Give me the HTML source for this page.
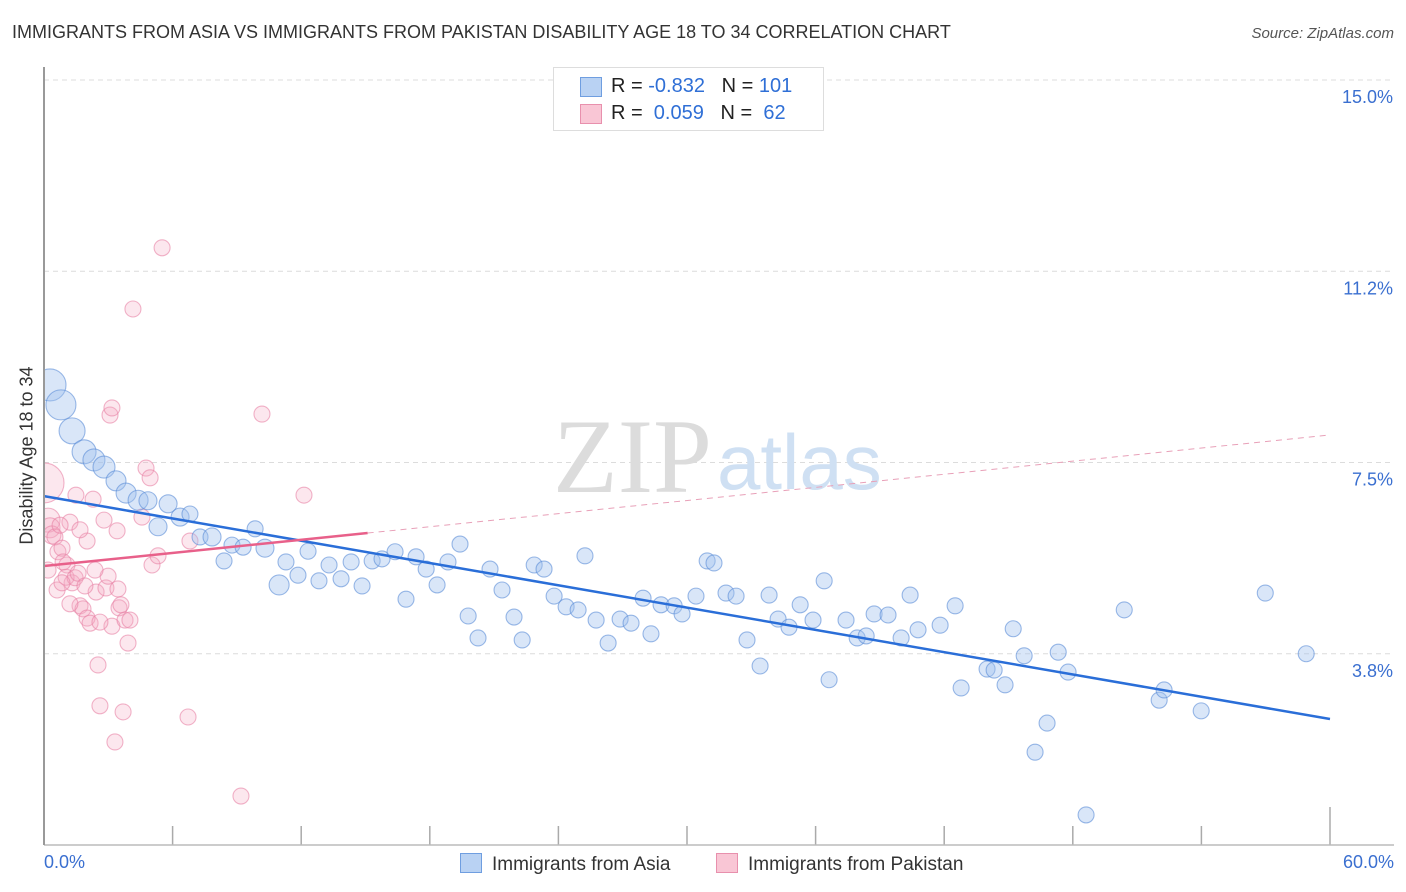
<!DOCTYPE html>
<html><head><meta charset="utf-8">
<style>
body{margin:0;background:#fff;font-family:"Liberation Sans",sans-serif;}
#wrap{position:relative;width:1406px;height:892px;overflow:hidden;}
.t{position:absolute;white-space:nowrap;}
</style></head>
<body>
<div id="wrap">
<div class="t" style="left:12px;top:22px;font-size:18px;color:#333;">IMMIGRANTS FROM ASIA VS IMMIGRANTS FROM PAKISTAN DISABILITY AGE 18 TO 34 CORRELATION CHART</div>
<div class="t" style="right:12px;top:25px;font-size:15px;color:#555;font-style:italic;">Source: ZipAtlas.com</div>
<svg id="svg" width="1406" height="892" style="position:absolute;left:0;top:0"></svg>
<div style="position:absolute;left:0;top:60px;width:43px;height:800px;background:#fff;z-index:2;"></div>
<div style="position:absolute;left:43px;top:67px;width:1.5px;height:778px;background:#999;z-index:3;"></div>
</div>
<script>
const asiaX=[0.28,0.79,1.31,1.87,2.33,2.80,3.36,3.83,4.39,4.85,5.32,5.79,6.35,6.81,7.28,7.84,8.40,8.77,9.29,9.85,10.31,10.97,11.29,11.85,12.32,12.83,13.30,13.86,14.33,14.84,15.31,15.77,16.38,16.89,17.36,17.83,18.34,18.85,19.41,19.79,20.25,20.81,21.37,21.93,22.31,22.87,23.33,23.80,24.36,24.92,25.24,25.76,26.32,26.88,27.39,27.95,28.32,28.79,29.40,29.77,30.42,30.94,31.26,31.82,32.29,32.80,33.41,33.83,34.25,34.76,35.28,35.88,36.40,36.63,37.42,37.94,38.36,38.73,39.38,39.99,40.41,40.78,41.81,42.51,42.79,44.00,44.33,44.84,45.22,45.73,46.24,46.80,47.32,47.78,48.62,50.40,52.03,52.26,53.99,56.98,58.89];
const asiaY=[9.02,8.63,8.12,7.71,7.55,7.41,7.14,6.90,6.76,6.75,6.24,6.69,6.43,6.49,6.04,6.04,5.57,5.88,5.84,6.20,5.82,5.10,5.55,5.29,5.76,5.18,5.49,5.22,5.55,5.08,5.57,5.61,5.75,4.82,5.65,5.41,5.10,5.55,5.90,4.49,4.06,5.41,5.00,4.47,4.02,5.49,5.41,4.88,4.67,4.61,5.67,4.41,3.96,4.43,4.35,4.84,4.14,4.71,4.69,4.53,4.88,5.57,5.53,4.94,4.88,4.02,3.51,4.90,4.43,4.27,4.71,4.41,5.18,3.24,4.41,4.06,4.10,4.53,4.51,4.06,4.90,4.22,4.31,4.69,3.08,3.45,3.43,3.14,4.24,3.71,1.82,2.39,3.78,3.39,0.59,4.61,2.84,3.04,2.63,4.94,3.75];
const asiaW=[16,15,13,12,11,11,10,10,10,9,9,9,9,8,8,9,8,8,8,8,9,10];
const pakX=[0,0.19,0.28,0.37,0.51,0.65,0.84,1.07,1.31,0.89,1.21,1.03,1.45,1.59,1.68,1.82,2.01,2.15,2.29,2.43,2.52,2.61,2.80,2.89,2.99,3.08,3.17,3.17,3.31,3.41,3.50,3.59,3.69,3.78,3.92,4.01,4.15,4.57,4.76,4.95,5.04,5.32,5.51,6.72,6.81,9.19,10.17,12.13,2.01,1.68,0.75,0.19,1.21,1.91,1.49,2.61,3.45,2.38,0.61,0.84];
const pakY=[7.10,6.37,6.22,6.08,6.04,5.75,5.82,5.49,5.14,5.55,6.33,5.25,5.24,5.33,4.69,4.63,4.45,4.35,6.78,4.96,3.53,2.73,6.37,5.04,5.27,8.43,8.57,4.29,2.02,6.16,4.65,4.71,2.61,4.41,3.96,4.41,10.51,6.43,7.39,7.20,5.49,5.67,11.71,2.51,5.96,0.96,8.45,6.86,5.96,6.18,6.27,5.39,4.73,5.08,6.86,4.37,5.02,5.39,5.00,5.14];
const pakW=[20,12,10,9];
const asiaTrend=[6.84,2.47];
const pakTrend=[5.47,8.04];
const pakSolidEnd=15.1;
const xTicks=[0,6,12,18,24,30,36,42,48,54,60];
const yTicks=[3.75,7.5,11.25,15];
const yTickLabels=["3.8%","7.5%","11.2%","15.0%"];

const NS="http://www.w3.org/2000/svg";
const svg=document.getElementById('svg');
const X=v=>44+v*(1286/60);
const Y=v=>845-v*51;
function mk(tag,attrs,parent){const e=document.createElementNS(NS,tag);for(const k in attrs)e.setAttribute(k,attrs[k]);(parent||svg).appendChild(e);return e;}

yTicks.forEach((t,i)=>{
  const g=mk('line',{x1:44,x2:1394,y1:Y(t),y2:Y(t),stroke:'#dcdcdc','stroke-dasharray':'5,4','stroke-width':1});
  
  
  const tx=mk('text',{x:1393,y:Y(t)+23,'text-anchor':'end','font-size':18,fill:'#3a6fd0','font-family':'Liberation Sans, sans-serif'});
  tx.textContent=yTickLabels[i];
  
  
});
xTicks.forEach((t,i)=>{
  if(i===0)return;
  const l=mk('line',{x1:X(t),x2:X(t),y1:(i===xTicks.length-1?807:826),y2:845,stroke:'#aaa','stroke-width':1.5});
  
  
});
const wm=mk('text',{x:553,y:492,'font-size':106,fill:'#dcdcdc','font-family':'Liberation Serif, serif'});
wm.textContent='ZIP';


const wm2=mk('text',{x:717,y:489,'font-size':78,fill:'#cfe0f3','font-family':'Liberation Sans, sans-serif'});
wm2.textContent='atlas';



pakX.forEach((x,i)=>{
  const c=mk('circle',{cx:X(x),cy:Y(pakY[i]),r:pakW[i]||8,fill:'rgba(246,170,195,0.28)',stroke:'rgba(232,130,165,0.6)','stroke-width':1.1});
  
  
});
asiaX.forEach((x,i)=>{
  const c=mk('circle',{cx:X(x),cy:Y(asiaY[i]),r:asiaW[i]||8,fill:'rgba(160,192,238,0.4)',stroke:'rgba(90,140,215,0.6)','stroke-width':1.1});
  
  
});
const bx=mk('line',{x1:44,x2:1394,y1:845,y2:845,stroke:'#bbb','stroke-width':1.5});


const bl=mk('line',{x1:X(0),y1:Y(asiaTrend[0]),x2:X(60),y2:Y(asiaTrend[1]),stroke:'#2a6ed8','stroke-width':2.5});


const py=x=>pakTrend[0]+(pakTrend[1]-pakTrend[0])*x/60;
const pl=mk('line',{x1:X(0),y1:Y(py(0)),x2:X(pakSolidEnd),y2:Y(py(pakSolidEnd)),stroke:'#e8608a','stroke-width':2.5});


const pd=mk('line',{x1:X(pakSolidEnd),y1:Y(py(pakSolidEnd)),x2:X(60),y2:Y(py(60)),stroke:'#e8a0b8','stroke-width':1,'stroke-dasharray':'6,5'});


</script>
<div class="t" style="left:-73px;top:445px;width:200px;text-align:center;font-size:18px;color:#333;transform:rotate(-90deg);z-index:4;">Disability Age 18 to 34</div>
<div class="t" style="left:44px;top:852px;font-size:18px;color:#3a6fd0;">0.0%</div>
<div class="t" style="right:12px;top:852px;font-size:18px;color:#3a6fd0;">60.0%</div>
<div style="position:absolute;left:553px;top:67px;width:269px;height:62px;border:1px solid #ddd;background:#fff;font-size:20px;">
  <div style="position:absolute;left:26px;top:9px;width:20px;height:18px;background:#b9d2f3;border:1px solid #6f9ee0;"></div>
  <div class="t" style="left:57px;top:7px;color:#222;">R = <span style="color:#2f6fd6">-0.832</span>&nbsp;&nbsp;&nbsp;N = <span style="color:#2f6fd6">101</span></div>
  <div style="position:absolute;left:26px;top:36px;width:20px;height:18px;background:#f9c6d5;border:1px solid #e890ad;"></div>
  <div class="t" style="left:57px;top:34px;color:#222;">R = &nbsp;<span style="color:#2f6fd6">0.059</span>&nbsp;&nbsp;&nbsp;N = &nbsp;<span style="color:#2f6fd6">62</span></div>
</div>
<div style="position:absolute;left:460px;top:853px;font-size:19px;color:#333;">
  <div style="position:absolute;left:0;top:0;white-space:nowrap;"><span style="display:inline-block;width:20px;height:18px;background:#b9d2f3;border:1px solid #6f9ee0;vertical-align:-3px;margin-right:10px;"></span>Immigrants from Asia</div>
  <div style="position:absolute;left:256px;top:0;white-space:nowrap;"><span style="display:inline-block;width:20px;height:18px;background:#f9c6d5;border:1px solid #e890ad;vertical-align:-3px;margin-right:10px;"></span>Immigrants from Pakistan</div>
</div>
</body></html>
